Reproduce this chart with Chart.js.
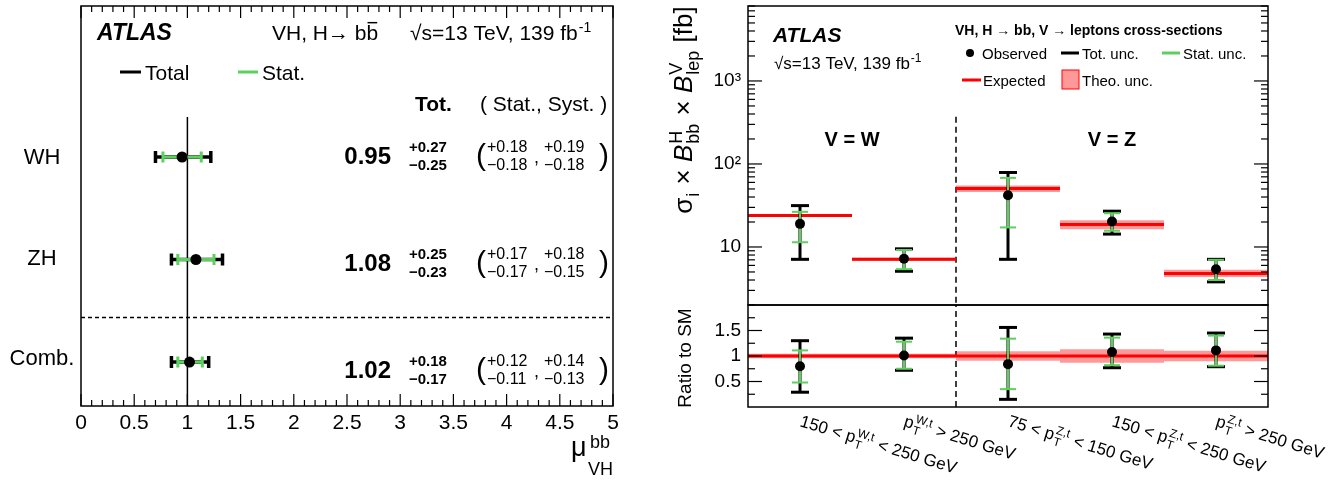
<!DOCTYPE html>
<html>
<head>
<meta charset="utf-8">
<script src="https://cdn.jsdelivr.net/npm/chart.js@4.4.1/dist/chart.umd.min.js"></script>
<style>
html,body{margin:0;padding:0;background:#fff;}
#wrap{position:relative;width:1335px;height:482px;overflow:hidden;background:#fff;}
canvas{position:absolute;}
</style>
</head>
<body>
<div id="wrap">
  <canvas id="muChart" width="640" height="482" style="left:0;top:0"></canvas>
  <canvas id="xsChart" width="695" height="310" style="left:640px;top:0"></canvas>
  <canvas id="ratioChart" width="695" height="182" style="left:640px;top:300px"></canvas>
</div>
<script>
// Left: signal strengths mu_VH^bb. Right: VH cross-sections per STXS bin + ratio to SM.
const FONT = '"Liberation Sans", Arial, Helvetica, sans-serif';
const GREEN = '#5cd05c';
const RED = '#ff0000';
const PINK = 'rgba(255,0,0,0.4)';

// ---- left panel data
const ROWS = ['WH', 'ZH', 'Comb.'];
const MU = [0.95, 1.08, 1.02];
const MU_TOT_UP = [0.27, 0.25, 0.18];
const MU_TOT_DN = [0.25, 0.23, 0.17];
const MU_STAT_UP = [0.18, 0.17, 0.12];
const MU_STAT_DN = [0.18, 0.17, 0.11];
const MU_SYST_UP = [0.19, 0.18, 0.14];
const MU_SYST_DN = [0.18, 0.15, 0.13];
const MU_TICKS = [0, 0.5, 1, 1.5, 2, 2.5, 3, 3.5, 4, 4.5, 5];

// ---- right panel data (fb), one entry per bin
const BIN_LABELS = [
  '150 < p_T^{W,t} < 250 GeV',
  'p_T^{W,t} > 250 GeV',
  '75 < p_T^{Z,t} < 150 GeV',
  '150 < p_T^{Z,t} < 250 GeV',
  'p_T^{Z,t} > 250 GeV'
];
const XS_OBS     = [19.0, 7.2, 42.0, 20.3, 5.4];
const XS_TOT_HI  = [31.5, 9.5, 79.0, 27.0, 7.1];
const XS_TOT_LO  = [7.1, 5.1, 7.1, 14.3, 3.8];
const XS_STAT_HI = [26.5, 9.2, 68.0, 25.5, 7.0];
const XS_STAT_LO = [11.4, 5.4, 17.2, 15.7, 4.0];
const XS_EXP     = [24.0, 7.1, 50.5, 18.7, 4.8];
const XS_THEO_HI = [25.0, 7.4, 55.0, 21.0, 5.3];
const XS_THEO_LO = [23.0, 6.8, 46.0, 16.4, 4.35];
const XS_TICKS = [10, 100, 1000];
const XS_TICK_LABELS = ['10', '10²', '10³'];

const R_OBS     = [0.80, 1.01, 0.84, 1.08, 1.11];
const R_TOT_HI  = [1.30, 1.35, 1.56, 1.43, 1.45];
const R_TOT_LO  = [0.29, 0.72, 0.15, 0.77, 0.79];
const R_STAT_HI = [1.11, 1.28, 1.34, 1.36, 1.40];
const R_STAT_LO = [0.48, 0.75, 0.35, 0.82, 0.81];
const R_THEO_HI = [1.045, 1.045, 1.095, 1.13, 1.105];
const R_THEO_LO = [0.955, 0.955, 0.905, 0.87, 0.895];
const R_TICKS = [0.5, 1, 1.5];

Chart.defaults.font.family = FONT;

// ---------- small text helpers (sub/superscripts, overline)
function fnt(o){ return (o.i?'italic ':'')+(o.b?'bold ':'')+o.size+'px '+FONT; }
function rich(ctx, x, y, parts, base, dry){
  let cx = x;
  for (const raw of parts){
    const p = typeof raw === 'string' ? {t: raw} : raw;
    const o = Object.assign({}, base, p.o || {});
    if (p.sup !== undefined || p.sub !== undefined){
      const so = Object.assign({}, o, {size: Math.round(o.size*0.68), i:false});
      ctx.font = fnt(so);
      let w = 0;
      if (p.sup){ if(!dry) ctx.fillText(p.sup, cx+1, y - o.size*0.4); w = Math.max(w, ctx.measureText(p.sup).width); }
      if (p.sub){ if(!dry) ctx.fillText(p.sub, cx+1, y + o.size*0.28); w = Math.max(w, ctx.measureText(p.sub).width); }
      cx += w + 2;
    } else {
      ctx.font = fnt(o);
      const w = ctx.measureText(p.t).width;
      if (!dry){
        ctx.fillText(p.t, cx, y);
        if (p.over) ctx.fillRect(cx+1, y - o.size*0.86, w-2, Math.max(1, o.size*0.07));
      }
      cx += w;
    }
  }
  return cx - x;
}
function richAt(ctx, x, y, parts, base, align, angle){
  ctx.save();
  ctx.translate(x, y);
  if (angle) ctx.rotate(angle);
  ctx.textAlign = 'left';
  ctx.textBaseline = 'alphabetic';
  let x0 = 0;
  if (align === 'center' || align === 'right'){
    const w = rich(ctx, 0, 0, parts, base, true);
    x0 = align === 'center' ? -w/2 : -w;
  }
  rich(ctx, x0, 0, parts, base, false);
  ctx.restore();
}
function seg(ctx, x1, y1, x2, y2){ ctx.beginPath(); ctx.moveTo(x1,y1); ctx.lineTo(x2,y2); ctx.stroke(); }
function binParts(label){
  const m = label.split(/p_T\^\{([^}]*)\}/);
  return [m[0]+'p', {sup:m[1], sub:'T'}, m[2]];
}
// y axes: fixed width, no extra label padding above/below the plot frame
function fixY(width){
  return s => { s.width = width; s.paddingTop = 0; s.paddingBottom = 0; };
}

// ---------- error bar datasets
function hbar(y, lo, hi, color, lw, cap, order){
  return {data:[{x:lo,y},{x:hi,y}], borderColor:color, borderWidth:lw, pointStyle:'line',
    pointRadius:cap, pointRotation:90, pointBorderColor:color, pointBorderWidth:lw, order, tension:0};
}
function vbar(x, lo, hi, color, lw, cap, order){
  return {data:[{x,y:lo},{x,y:hi}], borderColor:color, borderWidth:lw, pointStyle:'line',
    pointRadius:cap, pointRotation:0, pointBorderColor:color, pointBorderWidth:lw, order, tension:0};
}
function band(i, lo, hi, order){
  return [
    {data:[{x:i-0.5,y:hi},{x:i+0.5,y:hi}], borderWidth:0, pointRadius:0, fill:'+1', backgroundColor:PINK, order},
    {data:[{x:i-0.5,y:lo},{x:i+0.5,y:lo}], borderWidth:0, pointRadius:0, fill:false, order}
  ];
}
function hline(x1, x2, y, color, lw, order, dash){
  return {data:[{x:x1,y},{x:x2,y}], borderColor:color, borderWidth:lw, pointRadius:0, order, borderDash:dash||[]};
}
function vline(x, y1, y2, color, lw, order, dash){
  return {data:[{x,y:y1},{x,y:y2}], borderColor:color, borderWidth:lw, pointRadius:0, order, borderDash:dash||[]};
}

/* ================================================================ LEFT: mu */
const MU_YMIN = -1.473, MU_YMAX = 2.429, MU_SEP = 1.566, MU_LINE_TOP = -0.39;
const muSets = [
  vline(1, MU_LINE_TOP, MU_YMAX, '#000', 1.5, 9),
  hline(0, 5, MU_SEP, '#000', 1.5, 9, [4,3])
];
ROWS.forEach((r, i) => {
  muSets.push(hbar(i, MU[i]-MU_TOT_DN[i], MU[i]+MU_TOT_UP[i], '#000', 3.5, 6, 3));
  muSets.push(hbar(i, MU[i]-MU_STAT_DN[i], MU[i]+MU_STAT_UP[i], GREEN, 3, 5.5, 2));
});
muSets.push({data: MU.map((v,i)=>({x:v, y:i})), showLine:false, pointRadius:5.5,
  pointBackgroundColor:'#000', pointBorderColor:'#000', pointBorderWidth:0, order:0});

const muDeco = {
  id:'muDeco',
  afterDraw(chart){
    const {ctx, chartArea:a, scales:{x, y}} = chart;
    ctx.save();
    ctx.strokeStyle = '#000'; ctx.fillStyle = '#000'; ctx.lineWidth = 1.5;
    ctx.strokeRect(a.left, a.top, a.width, a.height);
    ctx.lineWidth = 1.2;
    const majors = x.ticks.map(t => t.value);
    for (let k = 0; k < majors.length; k++){
      const px = x.getPixelForValue(majors[k]);
      seg(ctx, px, a.bottom, px, a.bottom-12); seg(ctx, px, a.top, px, a.top+12);
      if (k < majors.length-1){
        const step = (majors[k+1]-majors[k])/5;
        for (let m = 1; m < 5; m++){
          const q = x.getPixelForValue(majors[k]+m*step);
          seg(ctx, q, a.bottom, q, a.bottom-6); seg(ctx, q, a.top, q, a.top+6);
        }
      }
    }
    // header
    richAt(ctx, 97, 40, ['ATLAS'], {size:23, b:true, i:true});
    richAt(ctx, 272, 40, ['VH, H\u2192 b', {t:'b', over:true}], {size:21});
    richAt(ctx, 410, 40, ['\u221As=13 TeV, 139 fb', {sup:'-1'}], {size:21});
    // legend
    ctx.lineWidth = 3;
    ctx.strokeStyle = '#000'; seg(ctx, 120, 72, 141, 72);
    ctx.strokeStyle = GREEN; seg(ctx, 238, 72, 258, 72);
    richAt(ctx, 145, 80, ['Total'], {size:21});
    richAt(ctx, 262, 80, ['Stat.'], {size:21});
    richAt(ctx, 415, 111, ['Tot.'], {size:21, b:true});
    richAt(ctx, 480, 111, ['( Stat., Syst. )'], {size:21});
    // rows
    ROWS.forEach((r, i) => {
      const py = y.getPixelForValue(i);
      richAt(ctx, 42, py + 7 - 2*i, [r], {size:22}, 'center');
      const yc = 155.5 + 107*i;
      richAt(ctx, 391, yc + 8.5, [MU[i].toFixed(2)], {size:24, b:true}, 'right');
      richAt(ctx, 409, yc - 4, ['+'+MU_TOT_UP[i].toFixed(2)], {size:15, b:true});
      richAt(ctx, 409, yc + 14.5, ['\u2212'+MU_TOT_DN[i].toFixed(2)], {size:15, b:true});
      richAt(ctx, 476, yc + 9, ['('], {size:30});
      richAt(ctx, 487, yc - 4, ['+'+MU_STAT_UP[i].toFixed(2)], {size:16});
      richAt(ctx, 487, yc + 14.5, ['\u2212'+MU_STAT_DN[i].toFixed(2)], {size:16});
      richAt(ctx, 534, yc + 7, [','], {size:18});
      richAt(ctx, 544, yc - 4, ['+'+MU_SYST_UP[i].toFixed(2)], {size:16});
      richAt(ctx, 544, yc + 14.5, ['\u2212'+MU_SYST_DN[i].toFixed(2)], {size:16});
      richAt(ctx, 599, yc + 9, [')'], {size:30});
    });
    // x title
    ctx.textAlign = 'left'; ctx.textBaseline = 'alphabetic';
    ctx.font = fnt({size:27}); ctx.fillText('\u03BC', 571, 456);
    ctx.font = fnt({size:18}); ctx.fillText('bb', 590, 448); ctx.fillText('VH', 588, 475);
    ctx.restore();
  }
};

new Chart(document.getElementById('muChart'), {
  type:'line',
  data:{datasets: muSets},
  options:{
    responsive:false, animation:false, devicePixelRatio:1,
    layout:{autoPadding:false, padding:{left:81, right:27, top:6, bottom:0}},
    plugins:{legend:{display:false}, tooltip:{enabled:false}},
    scales:{
      x:{type:'linear', min:0, max:5,
        afterBuildTicks(s){ s.ticks = MU_TICKS.map(v => ({value:v})); },
        afterFit(s){ s.height = 76; s.paddingLeft = 0; s.paddingRight = 0; },
        grid:{display:false, drawTicks:false}, border:{display:false},
        ticks:{autoSkip:false, maxRotation:0, padding:5, color:'#000', font:{size:21}, callback:v => String(v)}},
      y:{type:'linear', reverse:true, min:MU_YMIN, max:MU_YMAX, display:false}
    }
  },
  plugins:[muDeco]
});

/* ================================================================ RIGHT: cross-sections */
const DASH_TOP = 370;
const xsSets = [vline(1.5, DASH_TOP, 2, '#000', 1.5, 9, [6,4])];
BIN_LABELS.forEach((l, i) => {
  xsSets.push(...band(i, XS_THEO_LO[i], XS_THEO_HI[i], 8));
  xsSets.push(hline(i-0.5, i+0.5, XS_EXP[i], RED, 3, 7));
  xsSets.push(vbar(i, XS_TOT_LO[i], XS_TOT_HI[i], '#000', 3, 9, 3));
  xsSets.push(vbar(i, XS_STAT_LO[i], XS_STAT_HI[i], GREEN, 2, 8, 2));
});
xsSets.push({data: XS_OBS.map((v,i)=>({x:i, y:v})), showLine:false, pointRadius:5,
  pointBackgroundColor:'#000', pointBorderColor:'#000', pointBorderWidth:0, order:0});

function yTicksBothSides(ctx, a, pxs, long){
  pxs.forEach(([py, major]) => {
    const L = major ? long : long/2;
    seg(ctx, a.left, py, a.left+L, py);
    seg(ctx, a.right, py, a.right-L, py);
  });
}

const xsDeco = {
  id:'xsDeco',
  afterDraw(chart){
    const {ctx, chartArea:a, scales:{x, y}} = chart;
    ctx.save();
    ctx.strokeStyle = '#000'; ctx.fillStyle = '#000'; ctx.lineWidth = 1.5;
    ctx.strokeRect(a.left, a.top, a.width, a.height);
    ctx.lineWidth = 1.2;
    const marks = [];
    for (let d = 0; d <= 3; d++) for (let m = 1; m <= 9; m++){
      const v = m*Math.pow(10, d);
      if (v >= y.min && v <= y.max) marks.push([y.getPixelForValue(v), m === 1]);
    }
    yTicksBothSides(ctx, a, marks, 14);
    // texts
    richAt(ctx, 133, 41.5, ['ATLAS'], {size:21, b:true, i:true});
    richAt(ctx, 134, 69, ['\u221As=13 TeV, 139 fb', {sup:'-1'}], {size:17});
    richAt(ctx, 315, 35, ['VH, H \u2192 bb, V \u2192 leptons cross-sections'], {size:14, b:true});
    // legend
    ctx.beginPath(); ctx.arc(330, 53, 4, 0, 2*Math.PI); ctx.fill();
    ctx.lineWidth = 3;
    ctx.strokeStyle = '#000'; seg(ctx, 421, 53, 439, 53);
    ctx.strokeStyle = GREEN; seg(ctx, 522, 53, 540, 53);
    ctx.strokeStyle = RED; seg(ctx, 322, 80, 341, 80);
    ctx.fillStyle = PINK; ctx.fillRect(422, 70, 17, 19);
    ctx.strokeStyle = RED; ctx.lineWidth = 1; ctx.strokeRect(422, 70, 17, 19);
    ctx.fillStyle = '#000';
    richAt(ctx, 342, 58.5, ['Observed'], {size:15});
    richAt(ctx, 442, 58.5, ['Tot. unc.'], {size:15});
    richAt(ctx, 543, 58.5, ['Stat. unc.'], {size:15});
    richAt(ctx, 343, 85.5, ['Expected'], {size:15});
    richAt(ctx, 442, 85.5, ['Theo. unc.'], {size:15});
    richAt(ctx, x.getPixelForValue(0.5), 146, ['V = W'], {size:20, b:true}, 'center');
    richAt(ctx, x.getPixelForValue(3), 146, ['V = Z'], {size:20, b:true}, 'center');
    // y title
    richAt(ctx, 52, 110, ['\u03C3', {sub:'i'}, ' \u00D7 ', {t:'B', o:{i:true}}, {sup:'H', sub:'bb'},
      ' \u00D7 ', {t:'B', o:{i:true}}, {sup:'V', sub:'lep'}, ' [fb]'], {size:26}, 'center', -Math.PI/2);
    ctx.restore();
  }
};

new Chart(document.getElementById('xsChart'), {
  type:'line',
  data:{datasets: xsSets},
  options:{
    responsive:false, animation:false, devicePixelRatio:1,
    layout:{autoPadding:false, padding:{left:0, right:67, top:6, bottom:5}},
    plugins:{legend:{display:false}, tooltip:{enabled:false}},
    scales:{
      x:{type:'linear', min:-0.5, max:4.5, display:false},
      y:{type:'logarithmic', min:2, max:8000,
        afterBuildTicks(s){ s.ticks = XS_TICKS.map(v => ({value:v})); },
        afterFit: fixY(108),
        grid:{display:false, drawTicks:false}, border:{display:false},
        ticks:{autoSkip:false, padding:7, color:'#000', font:{size:19},
          callback:v => { const k = XS_TICKS.findIndex(t => Math.abs(t-v) < 1e-6); return k < 0 ? '' : XS_TICK_LABELS[k]; }}}
    }
  },
  plugins:[xsDeco]
});

/* ================================================================ RIGHT: ratio to SM */
const rSets = [vline(1.5, 0, 2, '#000', 1.5, 9, [6,4])];
BIN_LABELS.forEach((l, i) => {
  rSets.push(...band(i, R_THEO_LO[i], R_THEO_HI[i], 8));
  rSets.push(vbar(i, R_TOT_LO[i], R_TOT_HI[i], '#000', 3, 9, 3));
  rSets.push(vbar(i, R_STAT_LO[i], R_STAT_HI[i], GREEN, 2, 8, 2));
});
rSets.push(hline(-0.5, 4.5, 1, RED, 3, 7));
rSets.push({data: R_OBS.map((v,i)=>({x:i, y:v})), showLine:false, pointRadius:5,
  pointBackgroundColor:'#000', pointBorderColor:'#000', pointBorderWidth:0, order:0});

const rDeco = {
  id:'rDeco',
  afterDraw(chart){
    const {ctx, chartArea:a, scales:{x, y}} = chart;
    ctx.save();
    ctx.strokeStyle = '#000'; ctx.fillStyle = '#000'; ctx.lineWidth = 1.5;
    ctx.strokeRect(a.left, a.top, a.width, a.height);
    ctx.lineWidth = 1.2;
    const marks = [];
    for (let v = y.min + 0.25; v < y.max; v += 0.25) marks.push([y.getPixelForValue(v), Math.abs(v*2 - Math.round(v*2)) < 1e-6]);
    yTicksBothSides(ctx, a, marks, 14);
    BIN_LABELS.forEach((l, i) => {
      richAt(ctx, x.getPixelForValue(i) - 1, 126, binParts(l), {size:17}, 'left', 17*Math.PI/180);
    });
    richAt(ctx, 51, 58, ['Ratio to SM'], {size:19}, 'center', -Math.PI/2);
    ctx.restore();
  }
};

new Chart(document.getElementById('ratioChart'), {
  type:'line',
  data:{datasets: rSets},
  options:{
    responsive:false, animation:false, devicePixelRatio:1,
    layout:{autoPadding:false, padding:{left:0, right:67, top:5, bottom:75}},
    plugins:{legend:{display:false}, tooltip:{enabled:false}},
    scales:{
      x:{type:'linear', min:-0.5, max:4.5, display:false},
      y:{type:'linear', min:0, max:2,
        afterBuildTicks(s){ s.ticks = R_TICKS.map(v => ({value:v})); },
        afterFit: fixY(108),
        grid:{display:false, drawTicks:false}, border:{display:false},
        ticks:{autoSkip:false, padding:7, color:'#000', font:{size:19}, callback:v => String(v)}}
    }
  },
  plugins:[rDeco]
});
</script>
</body>
</html>
